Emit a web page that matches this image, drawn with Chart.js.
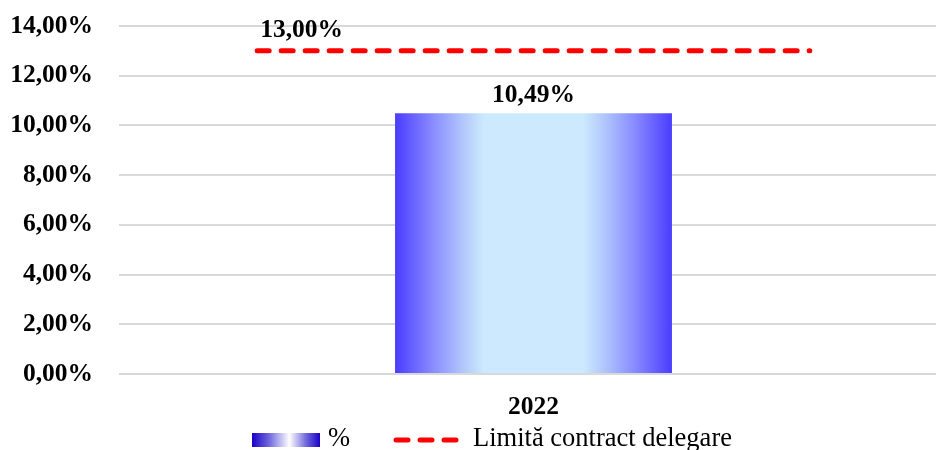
<!DOCTYPE html>
<html>
<head>
<meta charset="utf-8">
<script src="https://cdn.jsdelivr.net/npm/chart.js@4/dist/chart.umd.min.js"></script>
<style>
  html, body { margin: 0; padding: 0; background: #fff; overflow: hidden; }
  #wrap { position: absolute; left: 0; top: 0; width: 948px; height: 450px; }
  .legend { position: absolute; left: 0; top: 0; width: 936px; height: 450px; pointer-events: none;
            font-family: 'Liberation Serif', 'Times New Roman', serif; color: #000; }
  .legend .swatch-bar { position: absolute; left: 252px; top: 433px; width: 68px; height: 14px;
            background: linear-gradient(to right, #1a00c8 0%, #6f66dc 25%, #ffffff 55%, #6f66dc 80%, #1a00c8 100%); }
  .legend .swatch-line { position: absolute; left: 393px; top: 434px; width: 72px; height: 12px; }
  .legend .txt { position: absolute; top: 424px; font-size: 26.5px; line-height: 26px; white-space: nowrap; }
</style>
</head>
<body>
<div id="wrap"><canvas id="chart"></canvas></div>
<div class="legend">
  <div class="swatch-bar"></div>
  <span class="txt" style="left:328px">%</span>
  <svg class="swatch-line" viewBox="0 0 72 12"><line x1="3" y1="6" x2="69" y2="6" stroke="#ff0000" stroke-width="5" stroke-linecap="round" stroke-dasharray="12 12"/></svg>
  <span class="txt" style="left:473px">Limită contract delegare</span>
</div>
<script>
// Years on the category axis
const categories = ['2022'];
// Share per year, in percent
const shareValues = [10.49];
// Contractual limit, in percent
const limitValues = [13.00];
// Value axis ticks
const yTicks = [0, 2, 4, 6, 8, 10, 12, 14];

const SERIF = "'Liberation Serif', 'Times New Roman', serif";
const BAR_FRACTION = 0.334;   // bar width as a share of the category width
const LIMIT_SPAN = 2 / 3;     // half-length of the limit line, in category half-widths

const fmt = v => v.toFixed(2).replace('.', ',') + '%';

function barGradient(context) {
  const chart = context.chart;
  const { chartArea, scales } = chart;
  if (!chartArea || !scales.x) return '#4b3cff';
  const cx = scales.x.getPixelForValue(context.dataIndex);
  const w = scales.x.width / categories.length * BAR_FRACTION;
  const left = cx - w / 2, right = cx + w / 2;
  const g = chart.ctx.createLinearGradient(left, 0, right, 0);
  g.addColorStop(0.00, '#4b3cff');
  g.addColorStop(0.14, '#8a8eff');
  g.addColorStop(0.25, '#b3c9fc');
  g.addColorStop(0.32, '#cce9fd');
  g.addColorStop(0.68, '#cce9fd');
  g.addColorStop(0.75, '#b3c9fc');
  g.addColorStop(0.86, '#8a8eff');
  g.addColorStop(1.00, '#4b3cff');
  return g;
}

const valueLabels = {
  id: 'valueLabels',
  afterDatasetsDraw(chart) {
    const ctx = chart.ctx;
    ctx.save();
    ctx.fillStyle = '#000';
    ctx.font = 'bold 25.5px ' + SERIF;
    ctx.textBaseline = 'alphabetic';
    // bar value above each bar
    const barMeta = chart.getDatasetMeta(0);
    barMeta.data.forEach((el, i) => {
      ctx.textAlign = 'center';
      ctx.fillText(fmt(shareValues[i]), el.x, el.y - 11);
    });
    // limit value above the start of the limit line
    const lineMeta = chart.getDatasetMeta(1);
    const p0 = lineMeta.data[0];
    if (p0) {
      ctx.textAlign = 'left';
      ctx.fillText(fmt(limitValues[0]), p0.x + 3, p0.y - 14);
    }
    ctx.restore();
  }
};

new Chart(document.getElementById('chart'), {
  type: 'bar',
  data: {
    labels: categories,
    datasets: [
      {
        label: '%',
        data: shareValues,
        backgroundColor: barGradient,
        borderWidth: 0,
        grouped: false,
        categoryPercentage: 1,
        barPercentage: BAR_FRACTION,
        xAxisID: 'x',
        order: 2
      },
      {
        type: 'line',
        label: 'Limită contract delegare',
        data: [
          { x: -LIMIT_SPAN, y: limitValues[0] },
          { x: LIMIT_SPAN, y: limitValues[0] }
        ],
        xAxisID: 'x2',
        borderColor: '#ff0000',
        borderWidth: 5,
        borderDash: [12, 12],
        borderCapStyle: 'round',
        pointRadius: 0,
        fill: false,
        order: 1
      }
    ]
  },
  options: {
    responsive: true,
    maintainAspectRatio: false,
    animation: false,
    layout: { padding: { top: 26, right: 0, bottom: 0, left: 0 } },
    plugins: {
      legend: { display: false },
      tooltip: { enabled: false }
    },
    scales: {
      x: {
        type: 'category',
        grid: { display: false, drawTicks: false },
        border: { display: false },
        ticks: { color: '#000', font: { family: SERIF, size: 25.5, weight: 'bold' }, padding: 18 },
        afterFit(scale) { scale.height = 76; }
      },
      x2: {
        type: 'linear',
        display: false,
        offset: false,
        grid: { offset: false },
        min: -1,
        max: 1
      },
      y: {
        min: yTicks[0],
        max: yTicks[yTicks.length - 1],
        afterBuildTicks(scale) { scale.ticks = yTicks.map(v => ({ value: v })); },
        ticks: {
          color: '#000',
          font: { family: SERIF, size: 25.5, weight: 'bold' },
          padding: 26,
          callback: v => fmt(v)
        },
        grid: { color: '#d9d9d9', lineWidth: 2, drawTicks: false },
        border: { display: false },
        afterFit(scale) {
          scale.width = 119;
          scale.paddingTop = 0;
          scale.paddingBottom = 0;
        }
      }
    }
  },
  plugins: [valueLabels]
});
</script>
</body>
</html>
